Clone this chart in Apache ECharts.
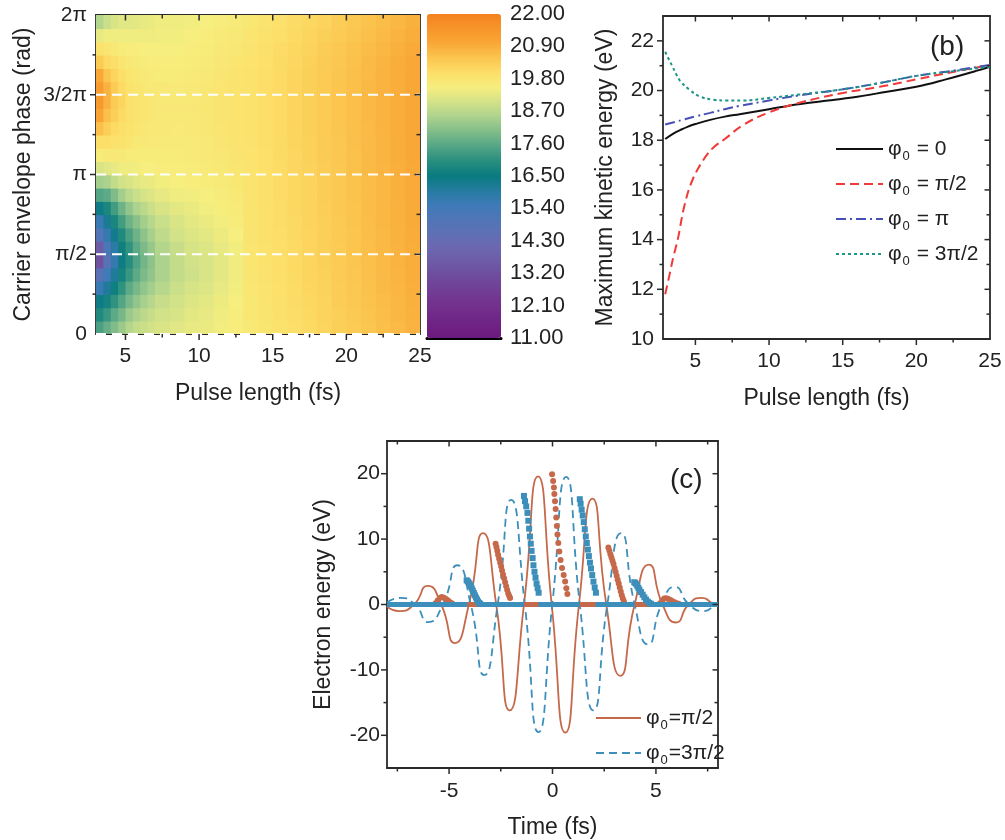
<!DOCTYPE html>
<html>
<head>
<meta charset="utf-8">
<script src="https://cdn.jsdelivr.net/npm/echarts@6/dist/echarts.min.js"></script>
<style>
html,body{margin:0;padding:0;background:#fff;}
#chart{width:1005px;height:840px;}
</style>
</head>
<body>
<div id="chart"></div>
<script>
// ---------- Panel (a): heatmap data (pulse length in fs, phase in units of pi) ----------
const heatXEdges = [3, 3.5, 4, 4.5, 5, 5.5, 6, 6.5, 7, 8, 9, 10, 11, 12, 13, 14, 15, 16, 17, 18, 19, 20, 21, 22, 23, 24, 25];
const heatPhiEdges = [0, 0.0833, 0.1667, 0.25, 0.3333, 0.4167, 0.5, 0.5833, 0.6667, 0.75, 0.8333, 0.9167, 1,
  1.0833, 1.1667, 1.25, 1.3333, 1.4167, 1.5, 1.5833, 1.6667, 1.75, 1.8333, 1.9167, 2];
const energyGrid = [
  [17.4,17.7,18.0,18.3,18.6,18.8,18.9,19.0,19.1,19.2,19.3,19.35,19.45,19.55, 19.70,19.80,19.90,20.00,20.10,20.20,20.30,20.40,20.50,20.60,20.70,20.80],
  [16.9,17.2,17.6,17.9,18.3,18.5,18.7,18.85,19.0,19.1,19.25,19.3,19.42,19.53, 19.73,19.83,19.93,20.03,20.13,20.23,20.33,20.43,20.53,20.63,20.73,20.83],
  [16.4,16.7,17.1,17.5,17.9,18.2,18.45,18.65,18.85,19.0,19.15,19.25,19.38,19.5, 19.75,19.85,19.95,20.05,20.15,20.25,20.35,20.45,20.55,20.65,20.75,20.85],
  [15.6,16.1,16.6,17.1,17.6,17.9,18.2,18.4,18.65,18.9,19.05,19.15,19.3,19.45, 19.77,19.87,19.97,20.07,20.17,20.27,20.37,20.47,20.57,20.67,20.77,20.87],
  [14.7,15.5,16.1,16.7,17.2,17.6,17.95,18.2,18.5,18.8,18.95,19.1,19.25,19.42, 19.79,19.89,19.99,20.09,20.19,20.29,20.39,20.49,20.59,20.69,20.79,20.89],
  [13.3,14.8,15.7,16.4,17.0,17.45,17.85,18.15,18.5,18.8,19.0,19.1,19.25,19.42, 19.80,19.90,20.00,20.10,20.20,20.30,20.40,20.50,20.60,20.70,20.80,20.90],
  [13.6,15.1,15.9,16.6,17.1,17.6,17.95,18.25,18.6,18.85,19.05,19.15,19.3,19.45, 19.81,19.91,20.01,20.11,20.21,20.31,20.41,20.51,20.61,20.71,20.81,20.91],
  [14.9,15.7,16.3,16.9,17.4,17.8,18.15,18.45,18.75,19.0,19.15,19.25,19.38,19.5, 19.82,19.92,20.02,20.12,20.22,20.32,20.42,20.52,20.62,20.72,20.82,20.92],
  [15.6,16.2,16.8,17.3,17.8,18.1,18.4,18.65,18.9,19.1,19.25,19.35,19.45,19.56, 19.83,19.93,20.03,20.13,20.23,20.33,20.43,20.53,20.63,20.73,20.83,20.93],
  [16.4,16.8,17.3,17.8,18.2,18.5,18.7,18.9,19.1,19.25,19.35,19.45,19.52,19.62, 19.84,19.94,20.04,20.14,20.24,20.34,20.44,20.54,20.64,20.74,20.84,20.94],
  [17.5,17.6,18.0,18.4,18.7,18.9,19.05,19.15,19.3,19.4,19.45,19.5,19.58,19.68, 19.85,19.95,20.05,20.15,20.25,20.35,20.45,20.55,20.65,20.75,20.85,20.95],
  [18.4,18.5,18.8,19.0,19.1,19.2,19.3,19.35,19.45,19.5,19.55,19.6,19.65,19.74, 19.85,19.95,20.05,20.15,20.25,20.35,20.45,20.55,20.65,20.75,20.85,20.95],
  [19.1,19.2,19.3,19.4,19.4,19.45,19.5,19.5,19.55,19.55,19.6,19.65,19.7,19.78, 19.87,19.97,20.07,20.17,20.27,20.37,20.47,20.57,20.67,20.77,20.87,20.97],
  [19.6,19.7,19.7,19.7,19.6,19.6,19.6,19.6,19.6,19.6,19.65,19.7,19.75,19.82, 19.88,19.98,20.08,20.18,20.28,20.38,20.48,20.58,20.68,20.78,20.88,20.98],
  [20.0,20.0,19.9,19.9,19.8,19.7,19.7,19.65,19.65,19.65,19.65,19.7,19.78,19.85, 19.89,19.99,20.09,20.19,20.29,20.39,20.49,20.59,20.69,20.79,20.89,20.99],
  [20.6,20.3,20.1,20.0,19.9,19.8,19.75,19.7,19.7,19.65,19.7,19.75,19.8,19.87, 19.90,20.00,20.10,20.20,20.30,20.40,20.50,20.60,20.70,20.80,20.90,21.00],
  [21.1,20.6,20.3,20.1,19.95,19.85,19.8,19.75,19.7,19.7,19.7,19.75,19.82,19.88, 19.91,20.01,20.11,20.21,20.31,20.41,20.51,20.61,20.71,20.81,20.91,21.01],
  [21.4,20.8,20.4,20.2,19.95,19.85,19.8,19.75,19.7,19.7,19.7,19.75,19.82,19.88, 19.91,20.01,20.11,20.21,20.31,20.41,20.51,20.61,20.71,20.81,20.91,21.01],
  [21.3,20.8,20.4,20.1,19.9,19.8,19.75,19.7,19.7,19.65,19.7,19.75,19.8,19.87, 19.91,20.01,20.11,20.21,20.31,20.41,20.51,20.61,20.71,20.81,20.91,21.01],
  [21.0,20.5,20.2,20.0,19.8,19.75,19.7,19.65,19.6,19.6,19.65,19.7,19.78,19.85, 19.90,20.00,20.10,20.20,20.30,20.40,20.50,20.60,20.70,20.80,20.90,21.00],
  [20.4,20.1,20.0,19.8,19.7,19.65,19.6,19.55,19.55,19.55,19.6,19.65,19.72,19.8, 19.88,19.98,20.08,20.18,20.28,20.38,20.48,20.58,20.68,20.78,20.88,20.98],
  [19.9,19.8,19.7,19.6,19.55,19.55,19.5,19.5,19.5,19.5,19.55,19.6,19.68,19.75, 19.85,19.95,20.05,20.15,20.25,20.35,20.45,20.55,20.65,20.75,20.85,20.95],
  [19.3,19.4,19.4,19.4,19.4,19.4,19.4,19.4,19.45,19.45,19.5,19.55,19.62,19.7, 19.80,19.90,20.00,20.10,20.20,20.30,20.40,20.50,20.60,20.70,20.80,20.90],
  [18.6,18.9,19.1,19.2,19.2,19.25,19.3,19.35,19.4,19.4,19.45,19.5,19.55,19.62, 19.75,19.85,19.95,20.05,20.15,20.25,20.35,20.45,20.55,20.65,20.75,20.85]
];
const phaseGuides = [0, 0.5, 1, 1.5];
const phaseTickValues = [0, 0.5, 1, 1.5, 2];
const phaseTickLabels = ['0', 'π/2', 'π', '3/2π', '2π'];
const phaseMinorTicks = [0.25, 0.75, 1.25, 1.75];
const pulseTicks = [5, 10, 15, 20, 25];
const pulseMinorTicks = [7.5, 12.5, 17.5, 22.5];

// colour scale 11 .. 22 eV (evenly spaced stops)
const colorScale = ['#6b1a7e','#6f2485','#732e8c','#723b93','#6f499b','#6d58a4','#6c66af','#616fb4','#5075b7','#3f7ab9',
  '#257ba0','#097b7f','#278e7e','#54a585','#80bc89','#acd28d','#d2e288','#f6ee7e','#fcdf69','#fbc64f','#f9a736','#f7952a','#f5821f'];

// ---------- Panel (b): maximum kinetic energy vs pulse length ----------
const curvePhi0 = [[2.95,18.05],[3.5,18.27],[4,18.42],[4.5,18.55],[5,18.65],[6,18.82],[7,18.95],[8,19.05],[9,19.15],[10,19.25],
  [12,19.45],[14,19.6],[15,19.67],[16,19.75],[18,19.95],[20,20.15],[22,20.45],[24,20.78],[25,20.96]];
const curvePhiHalfPi = [[2.95,11.8],[3.25,12.6],[3.5,13.3],[3.8,14.0],[4.25,15.35],[4.8,16.4],[5.7,17.35],[6.3,17.75],[7,18.05],
  [8.2,18.6],[10,19.12],[12,19.5],[15,19.9],[17.5,20.15],[20,20.45],[22.5,20.75],[25,21.03]];
const curvePhiPi = [[2.95,18.63],[4,18.8],[5,18.96],[6,19.1],[7,19.25],[8,19.38],[10,19.6],[12,19.8],[15,20.05],[17.5,20.3],
  [20,20.59],[22.5,20.8],[25,21.03]];
const curvePhi3HalfPi = [[2.95,21.56],[3.2,21.25],[3.45,20.96],[3.7,20.65],[4,20.36],[4.6,20.03],[5.3,19.76],[6.2,19.63],[7.1,19.6],
  [8.2,19.6],[10,19.7],[11.9,19.83],[15,20.05],[17.5,20.3],[20,20.59],[22.5,20.78],[25,20.96]];
const bNames = ['φ0 = 0', 'φ0 = π/2', 'φ0 = π', 'φ0 = 3π/2'];
const bYTicks = [10, 12, 14, 16, 18, 20, 22];
const bYMinor = [11, 13, 15, 17, 19, 21, 23];

// ---------- Panel (c): electron energy vs time ----------
const fieldHalfPi = [[-8.0,-0.3],[-7.4,-1.0],[-6.7,0],[-6.03,2.85],[-5.38,0],[-4.72,-5.9],[-4.04,0],[-3.36,10.9],[-2.72,0],
  [-2.07,-16.2],[-1.38,0],[-0.70,19.6],[-0.04,0],[0.62,-19.6],[1.28,0],[1.93,16.2],[2.6,0],[3.28,-10.9],[3.97,0],[4.66,6.1],
  [5.32,0],[5.97,-2.75],[6.58,0],[7.2,1.0],[7.85,0],[8.0,-0.1]];
const field3HalfPi = [[-8.0,0.3],[-7.35,1.0],[-6.65,0],[-6.0,-2.7],[-5.3,0],[-4.6,6.0],[-3.95,0],[-3.3,-10.8],[-2.65,0],
  [-2.0,16.0],[-1.34,0],[-0.68,-19.5],[-0.01,0],[0.66,19.5],[1.32,0],[1.98,-16.2],[2.65,0],[3.32,10.9],[3.97,0],[4.62,-6.1],
  [5.27,0],[5.92,2.7],[6.6,0],[7.3,-1.0],[7.9,0],[8.0,0.1]];
const electronsHalfPi = [
  [-5.65,0.2],[-5.55,0.6],[-5.45,1.0],[-5.35,1.15],[-5.25,1.05],[-5.15,0.85],[-5.05,0.6],[-4.95,0.35],[-4.85,0.15],
  [-2.75,9.3],[-2.71,8.8],[-2.67,8.2],[-2.63,7.6],[-2.58,7.0],[-2.53,6.4],[-2.48,5.8],[-2.44,5.2],[-2.39,4.6],[-2.34,4.0],
  [-2.29,3.4],[-2.24,2.8],[-2.19,2.2],[-2.14,1.7],[-2.09,1.3],[-2.05,1.0],
  [-0.02,19.9],[0.03,18.9],[0.07,17.9],[0.09,16.9],[0.12,15.8],[0.15,14.6],[0.18,13.3],[0.21,12.0],[0.24,10.7],[0.28,9.4],
  [0.33,8.1],[0.39,6.8],[0.46,5.6],[0.54,4.5],[0.61,3.5],[0.67,2.5],[0.72,1.6],
  [2.7,8.7],[2.75,8.2],[2.8,7.7],[2.85,7.2],[2.9,6.7],[2.95,6.2],[3.0,5.6],[3.05,5.0],[3.1,4.4],[3.15,3.8],[3.2,3.2],
  [3.25,2.6],[3.3,2.0],[3.35,1.4],[3.4,0.9],[3.45,0.5],
  [5.2,0.2],[5.3,0.6],[5.4,0.9],[5.5,0.95],[5.6,0.85],[5.7,0.7],[5.8,0.5],[5.9,0.35],[6.0,0.2],[6.1,0.1]];
const electrons3HalfPi = [
  [-4.15,3.7],[-4.1,3.55],[-4.05,3.35],[-4.0,3.1],[-3.95,2.8],[-3.9,2.45],[-3.85,2.1],[-3.8,1.75],[-3.75,1.4],[-3.7,1.05],
  [-3.65,0.75],[-3.6,0.45],[-3.55,0.25],[-3.5,0.1],
  [-1.38,16.6],[-1.33,15.8],[-1.27,15.0],[-1.21,14.0],[-1.17,12.8],[-1.13,11.6],[-1.09,10.4],[-1.05,9.3],[-1.01,8.2],
  [-0.96,7.1],[-0.92,6.0],[-0.87,5.0],[-0.82,4.1],[-0.77,3.2],[-0.72,2.5],[-0.67,1.8],
  [1.32,16.1],[1.36,15.4],[1.41,14.5],[1.46,13.6],[1.51,12.6],[1.56,11.5],[1.61,10.4],[1.66,9.4],[1.71,8.4],[1.76,7.4],
  [1.81,6.4],[1.86,5.5],[1.92,4.5],[1.98,3.5],[2.04,2.6],[2.1,1.8],
  [3.95,3.4],[4.0,3.3],[4.05,3.1],[4.1,2.85],[4.15,2.55],[4.2,2.25],[4.28,1.9],[4.36,1.5],[4.44,1.1],[4.52,0.75],
  [4.6,0.45],[4.68,0.25],[4.76,0.1]];
const zeroHalfPiSpan = [[-8, 0], [8, 0]];
const zero3HalfPiSegments = [[-8, -4.12], [-3.52, -1.38], [-0.68, 1.32], [2.08, 3.97], [4.74, 8]];
const cNames = ['φ0=π/2', 'φ0=3π/2'];
const cXTicks = [-5, 0, 5];
const cXMinor = [-7.5, -2.5, 2.5, 7.5];
const cYTicks = [-20, -10, 0, 10, 20];
const cYMinor = [-15, -5, 5, 15];

// ---------- build options ----------
const FONT = '"Liberation Sans", Arial, Helvetica, sans-serif';
const INK = '#222';
const AXC = '#2a2a2a';
const frame = {show: true, onZero: false, lineStyle: {color: AXC, width: 1.8}};
const labelBase = {color: INK, fontSize: 21, fontFamily: FONT};
const nameBase = {color: INK, fontSize: 23, fontFamily: FONT};

function mainAxis(grid, min, max, pos, ticks, opts, margin) {
  return Object.assign({
    type: 'value', gridIndex: grid, min: min, max: max, position: pos,
    axisLine: frame, splitLine: {show: false}, axisTick: {show: false},
    axisLabel: Object.assign({customValues: ticks, margin: margin}, labelBase),
    nameLocation: 'middle', nameTextStyle: nameBase
  }, opts || {});
}
function mirrorAxis(grid, min, max, pos) {
  return {type: 'value', gridIndex: grid, min: min, max: max, position: pos,
    axisLine: frame, splitLine: {show: false}, axisLabel: {show: false}, axisTick: {show: false}};
}

const heatCells = [];
energyGrid.forEach((row, r) => row.forEach((v, c) => {
  heatCells.push([heatXEdges[c], heatXEdges[c + 1], heatPhiEdges[r], heatPhiEdges[r + 1], v]);
}));

const xAxes = [
  mainAxis(0, 3, 25, 'bottom', pulseTicks, {name: 'Pulse length (fs)', nameGap: 48}, 12),
  mirrorAxis(0, 3, 25, 'top'),
  mainAxis(1, 2.8, 25, 'bottom', pulseTicks, {name: 'Pulse length (fs)', nameGap: 48}, 12),
  mirrorAxis(1, 2.8, 25, 'top'),
  mainAxis(2, -8, 8, 'bottom', cXTicks, {name: 'Time (fs)', nameGap: 48}, 13),
  mirrorAxis(2, -8, 8, 'top'),
  {type: 'value', gridIndex: 3, min: 0, max: 1, position: 'bottom', axisLine: {show: true, onZero: false, lineStyle: {color: '#000', width: 3}},
    axisTick: {show: false}, axisLabel: {show: false}, splitLine: {show: false}}
];
const yAxes = [
  mainAxis(0, 0, 2, 'left', phaseTickValues, {name: 'Carrier envelope phase (rad)', nameGap: 61,
    axisLabel: Object.assign({customValues: phaseTickValues, margin: 9,
      formatter: v => phaseTickLabels[phaseTickValues.indexOf(v)]}, labelBase)}, 9),
  mirrorAxis(0, 0, 2, 'right'),
  mainAxis(1, 10, 23, 'left', bYTicks, {name: 'Maximum kinetic energy (eV)', nameGap: 46}, 9),
  mirrorAxis(1, 10, 23, 'right'),
  mainAxis(2, -25, 25, 'left', cYTicks, {name: 'Electron energy (eV)', nameGap: 52}, 7),
  mirrorAxis(2, -25, 25, 'right'),
  {type: 'value', gridIndex: 3, min: 11, max: 22, interval: 1.1, position: 'right',
    axisLine: {show: false}, axisTick: {show: false}, splitLine: {show: false},
    axisLabel: {color: INK, fontSize: 22, fontFamily: FONT, margin: 9, formatter: v => v.toFixed(2)}}
];

const series = [];
series.push({
  type: 'custom', name: 'heat', xAxisIndex: 0, yAxisIndex: 0, clip: true, z: 1, silent: true,
  data: heatCells, encode: {x: [0, 1], y: [2, 3]},
  renderItem: function (params, api) {
    const a = api.coord([api.value(0), api.value(3)]);
    const b = api.coord([api.value(1), api.value(2)]);
    return {type: 'rect', shape: {x: a[0], y: a[1], width: b[0] - a[0] + 0.8, height: b[1] - a[1] + 0.8},
      style: {fill: api.visual('color')}};
  }
});
phaseGuides.forEach(p => series.push({
  type: 'line', xAxisIndex: 0, yAxisIndex: 0, z: 5, silent: true, symbol: 'none',
  data: [[3, p], [25, p]], lineStyle: {color: '#ffffff', width: 2, type: [10, 6]}
}));
const bCurves = [curvePhi0, curvePhiHalfPi, curvePhiPi, curvePhi3HalfPi];
const bStyles = [
  {color: '#111111', width: 2, type: 'solid'},
  {color: '#f03a3a', width: 2, type: [9, 5]},
  {color: '#4650b4', width: 2, type: [10, 4, 2, 4]},
  {color: '#1c9687', width: 2, type: [3, 3]}
];
bCurves.forEach((d, i) => series.push({
  type: 'line', name: bNames[i], xAxisIndex: 2, yAxisIndex: 2, symbol: 'none', smooth: 0.4, z: 3,
  data: d, lineStyle: bStyles[i], itemStyle: {color: bStyles[i].color}
}));
const BROWN = '#c6694a', BLUE = '#3d8fbb';
series.push({type: 'line', name: cNames[0], xAxisIndex: 4, yAxisIndex: 4, symbol: 'none', smooth: 0.6, z: 2,
  data: fieldHalfPi, lineStyle: {color: BROWN, width: 1.8}, itemStyle: {color: BROWN}});
series.push({type: 'line', name: cNames[1], xAxisIndex: 4, yAxisIndex: 4, symbol: 'none', smooth: 0.6, z: 2,
  data: field3HalfPi, lineStyle: {color: BLUE, width: 1.8, type: [8, 5]}, itemStyle: {color: BLUE}});
series.push({type: 'line', xAxisIndex: 4, yAxisIndex: 4, symbol: 'none', z: 3, silent: true,
  data: zeroHalfPiSpan, lineStyle: {color: BROWN, width: 5}});
series.push({type: 'scatter', xAxisIndex: 4, yAxisIndex: 4, z: 4, silent: true, symbol: 'circle', symbolSize: 6,
  data: electronsHalfPi, itemStyle: {color: BROWN, opacity: 1}});
zero3HalfPiSegments.forEach(s => series.push({type: 'line', xAxisIndex: 4, yAxisIndex: 4, symbol: 'none', z: 5, silent: true,
  data: [[s[0], 0], [s[1], 0]], lineStyle: {color: BLUE, width: 5}}));
series.push({type: 'scatter', xAxisIndex: 4, yAxisIndex: 4, z: 6, silent: true, symbol: 'rect', symbolSize: 6,
  data: electrons3HalfPi, itemStyle: {color: BLUE, opacity: 1}});

const legendRich = {
  p: {fontSize: 21, fontFamily: FONT, color: INK, lineHeight: 28, verticalAlign: 'middle'},
  s: {fontSize: 13, fontFamily: FONT, color: INK, lineHeight: 13, padding: [15, 1, 0, 1], verticalAlign: 'bottom'}
};
const legendFmt = name => '{p|φ}{s|0}{p|' + name.slice(2) + '}';

const option = {
  animation: false,
  backgroundColor: '#ffffff',
  grid: [
    {left: 96, top: 15, width: 324, height: 319},
    {left: 663, top: 16, width: 327, height: 323},
    {left: 387, top: 441, width: 331, height: 327},
    {left: 427, top: 14, width: 74, height: 324}
  ],
  xAxis: xAxes,
  yAxis: yAxes,
  visualMap: {
    type: 'continuous', min: 11, max: 22, dimension: 4, seriesIndex: 0,
    inRange: {color: colorScale}, calculable: false, realtime: false, hoverLink: false,
    left: 427, top: 14, itemWidth: 74, itemHeight: 324, padding: 0, text: null, showLabel: false
  },
  legend: [
    {data: bNames, orient: 'vertical', left: 830, top: 130, itemWidth: 47, itemHeight: 14, itemGap: 7,
      formatter: legendFmt, textStyle: {rich: legendRich}, selectedMode: false, itemStyle: {opacity: 0}},
    {data: cNames, orient: 'vertical', left: 590, top: 699, itemWidth: 45, itemHeight: 14, itemGap: 7,
      formatter: legendFmt, textStyle: {rich: legendRich}, selectedMode: false, itemStyle: {opacity: 0}}
  ],
  series: series
};

const chart = echarts.init(document.getElementById('chart'), null, {renderer: 'canvas'});
chart.setOption(option);

// ---------- tick marks (positions from the axes' own scales) ----------
const tickSets = [
  {xi: 0, yi: 0, xMajor: pulseTicks, xMinor: pulseMinorTicks, yMajor: phaseTickValues, yMinor: phaseMinorTicks},
  {xi: 2, yi: 2, xMajor: pulseTicks, xMinor: pulseMinorTicks, yMajor: bYTicks, yMinor: bYMinor},
  {xi: 4, yi: 4, xMajor: cXTicks, xMinor: cXMinor, yMajor: cYTicks, yMinor: cYMinor}
];
const graphics = [
  {type: 'text', left: 362, top: 36, style: {text: '(a)', font: '28px ' + FONT, fill: INK}},
  {type: 'text', left: 930, top: 33, style: {text: '(b)', font: '28px ' + FONT, fill: INK}},
  {type: 'text', left: 670, top: 466, style: {text: '(c)', font: '28px ' + FONT, fill: INK}}
];
function tickLine(x1, y1, x2, y2) {
  return {type: 'line', silent: true, z: 100, shape: {x1: x1, y1: y1, x2: x2, y2: y2}, style: {stroke: AXC, lineWidth: 1.5}};
}
tickSets.forEach(s => {
  const xa = xAxes[s.xi], ya = yAxes[s.yi];
  const px = v => chart.convertToPixel({xAxisIndex: s.xi}, v);
  const py = v => chart.convertToPixel({yAxisIndex: s.yi}, v);
  const left = px(xa.min), right = px(xa.max), bottom = py(ya.min), top = py(ya.max);
  const inX = v => v > xa.min && v < xa.max;
  const inY = v => v > ya.min && v < ya.max;
  [[s.xMajor, 6, 5.5], [s.xMinor, 3.5, 3.5]].forEach(([vals, outLen, inLen]) => vals.filter(inX).forEach(v => {
    const x = px(v);
    graphics.push(tickLine(x, bottom, x, bottom + outLen));
    graphics.push(tickLine(x, top, x, top + inLen));
  }));
  [[s.yMajor, 6, 5.5], [s.yMinor, 3.5, 3.5]].forEach(([vals, outLen, inLen]) => vals.filter(inY).forEach(v => {
    const y = py(v);
    graphics.push(tickLine(left, y, left - outLen, y));
    graphics.push(tickLine(right, y, right - inLen, y));
  }));
});
chart.setOption({graphic: graphics});
</script>
</body>
</html>
